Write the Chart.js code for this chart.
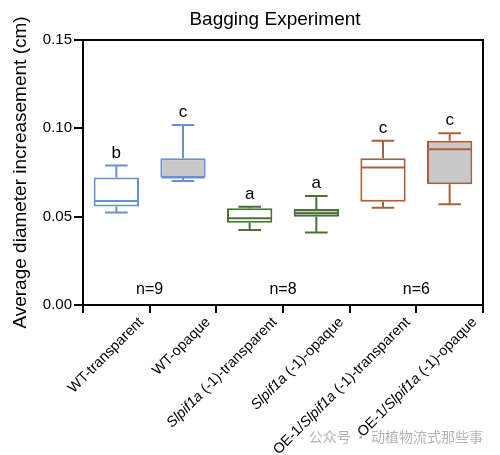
<!DOCTYPE html>
<html lang="en">
<head>
<meta charset="UTF-8">
<title>Bagging Experiment</title>
<style>
  body { margin: 0; background: #fff; }
  #chart { display: block; }
</style>
<script src="https://cdn.jsdelivr.net/npm/chart.js"></script>
</head>
<body>
<canvas id="chart" width="500" height="455"></canvas>
<script>
// box plot values (cm)
const categories = ['WT-transparent', 'WT-opaque', 'Slpif1a (-1)-transparent', 'Slpif1a (-1)-opaque',
                    'OE-1/Slpif1a (-1)-transparent', 'OE-1/Slpif1a (-1)-opaque'];
const whiskerMin = [0.0523, 0.0702, 0.0425, 0.0411, 0.0551, 0.0570];
const q1         = [0.0557, 0.0721, 0.0466, 0.0500, 0.0585, 0.0683];
const median     = [0.0589, 0.0721, 0.0491, 0.0519, 0.0779, 0.0881];
const q3         = [0.0721, 0.0830, 0.0547, 0.0543, 0.0830, 0.0930];
const whiskerMax = [0.0789, 0.1019, 0.0556, 0.0617, 0.0930, 0.0972];
const letters    = ['b', 'c', 'a', 'a', 'c', 'c'];
const groupN     = ['n=9', 'n=8', 'n=6'];
const yTicks     = [0, 0.05, 0.10, 0.15];

const gene = 'Slpif1a';
const groupColors = ['#6b8fd4', '#4a7235', '#a9613a'];
const FONT = "'Liberation Sans', Arial, sans-serif";

Chart.defaults.font.family = FONT;
Chart.defaults.color = '#000';

function colorOf(i) { return groupColors[Math.floor(i / 2)]; }

const boxPlot = {
    id: 'boxPlot',
    afterDatasetsDraw(chart) {
        const {ctx, chartArea: a, scales: {x, y}} = chart;
        const meta = chart.getDatasetMeta(0);
        ctx.save();
        ctx.lineWidth = 2;
        meta.data.forEach((bar, i) => {
            const cx = bar.x, half = bar.width / 2, cap = half / 2;
            const yMax = y.getPixelForValue(whiskerMax[i]);
            const yMin = y.getPixelForValue(whiskerMin[i]);
            const yMed = y.getPixelForValue(median[i]);
            ctx.strokeStyle = colorOf(i);
            ctx.beginPath();
            ctx.moveTo(cx, y.getPixelForValue(q3[i])); ctx.lineTo(cx, yMax);
            ctx.moveTo(cx - cap, yMax); ctx.lineTo(cx + cap, yMax);
            ctx.moveTo(cx, y.getPixelForValue(q1[i])); ctx.lineTo(cx, yMin);
            ctx.moveTo(cx - cap, yMin); ctx.lineTo(cx + cap, yMin);
            ctx.moveTo(cx - half + 1, yMed); ctx.lineTo(cx + half - 1, yMed);
            ctx.stroke();

            ctx.fillStyle = '#000';
            ctx.font = '17px ' + FONT;
            ctx.textAlign = 'center';
            ctx.textBaseline = 'bottom';
            ctx.fillText(letters[i], cx, yMax - 4);
        });

        ctx.font = '16px ' + FONT;
        ctx.textBaseline = 'middle';
        groupN.forEach((t, g) => {
            const cx = (x.getPixelForValue(2 * g) + x.getPixelForValue(2 * g + 1)) / 2;
            ctx.fillText(t, cx, a.bottom - 15);
        });
        ctx.restore();
    },
    afterDraw(chart) {
        const {ctx, chartArea: a, scales: {x}} = chart;
        ctx.save();
        // top and right frame
        ctx.strokeStyle = '#000';
        ctx.lineWidth = 2;
        ctx.beginPath();
        ctx.moveTo(a.left, a.top); ctx.lineTo(a.right, a.top); ctx.lineTo(a.right, a.bottom);
        ctx.stroke();

        // title
        ctx.fillStyle = '#000';
        ctx.font = '19px ' + FONT;
        ctx.textAlign = 'center';
        ctx.textBaseline = 'alphabetic';
        ctx.fillText('Bagging Experiment', (a.left + a.right) / 2 - 8, 25);

        // rotated category labels, gene name in italics
        ctx.textAlign = 'left';
        ctx.textBaseline = 'middle';
        categories.forEach((label, i) => {
            const parts = label.split(new RegExp('(' + gene + ')')).filter(Boolean);
            const fonts = parts.map(p => (p === gene ? 'italic ' : '') + '14.5px ' + FONT);
            const widths = parts.map((p, k) => { ctx.font = fonts[k]; return ctx.measureText(p).width; });
            const total = widths.reduce((s, w) => s + w, 0);
            ctx.save();
            ctx.translate(x.getPixelForValue(i) + 25, a.bottom + 15);
            ctx.rotate(-Math.PI / 4);
            let pos = -total;
            parts.forEach((p, k) => {
                ctx.font = fonts[k];
                ctx.fillText(p, pos, 0);
                pos += widths[k];
            });
            ctx.restore();
        });

        // watermark
        ctx.fillStyle = '#b4b4b4';
        ctx.font = "14px 'Noto Sans CJK SC', sans-serif";
        ctx.textAlign = 'right';
        ctx.textBaseline = 'middle';
        ctx.fillText('公众号 · 动植物流式那些事', a.right, 437);
        ctx.restore();
    }
};

new Chart(document.getElementById('chart'), {
    type: 'bar',
    data: {
        labels: categories,
        datasets: [{
            data: categories.map((c, i) => [q1[i], q3[i]]),
            backgroundColor: categories.map(c => c.endsWith('opaque') ? '#c9c9c9' : '#ffffff'),
            borderColor: categories.map((c, i) => colorOf(i)),
            borderWidth: 2,
            borderSkipped: false,
            categoryPercentage: 1,
            barPercentage: 0.68
        }]
    },
    options: {
        responsive: false,
        animation: false,
        layout: { padding: { top: 40, right: 17, left: 0, bottom: 0 } },
        plugins: { legend: { display: false }, tooltip: { enabled: false }, title: { display: false } },
        scales: {
            x: {
                offset: true,
                grid: { drawOnChartArea: false, color: '#000', lineWidth: 2, tickLength: 8 },
                border: { color: '#000', width: 2 },
                ticks: { display: false },
                afterFit(axis) { axis.height = 150; }
            },
            y: {
                min: 0,
                max: 0.15,
                afterBuildTicks(axis) { axis.ticks = yTicks.map(v => ({ value: v })); },
                grid: { drawOnChartArea: false, color: '#000', lineWidth: 2, tickLength: 9 },
                border: { color: '#000', width: 2 },
                ticks: { font: { size: 15 }, padding: 2, callback: v => v.toFixed(2) },
                title: { display: true, text: 'Average diameter increasement (cm)', font: { size: 19 }, padding: { top: 9 } },
                afterFit(axis) { axis.width = 83; }
            }
        }
    },
    plugins: [boxPlot]
});
</script>
</body>
</html>
